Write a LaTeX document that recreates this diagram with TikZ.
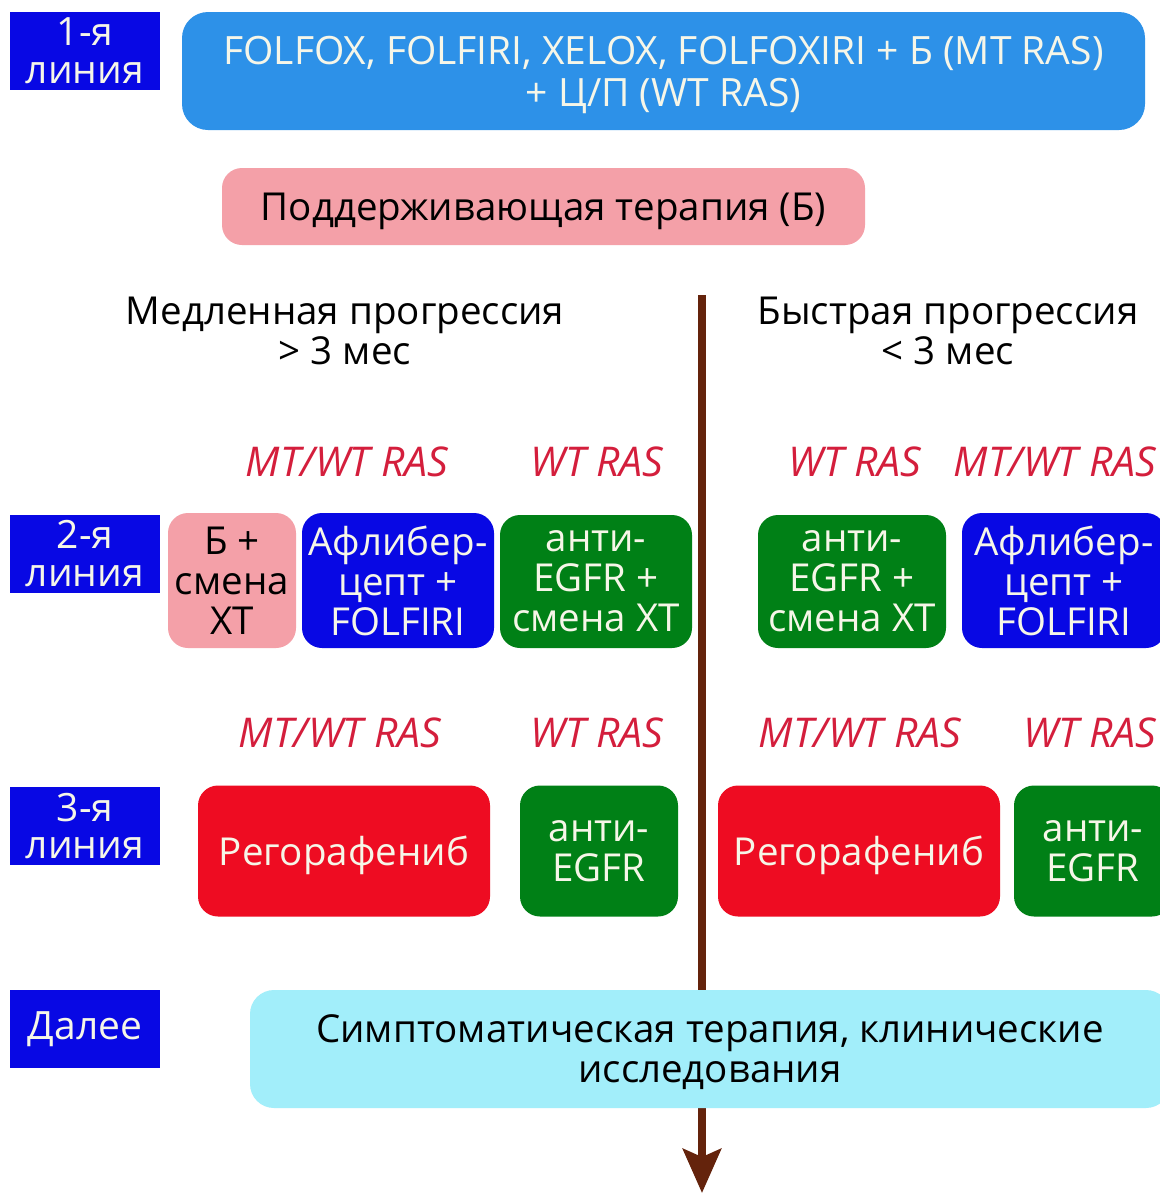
\documentclass[tikz,border=0pt]{standalone}
\usepackage{fontspec}
\setmainfont{Open Sans}
\usetikzlibrary{arrows.meta}
\definecolor{lblue}{RGB}{8,8,228}
\definecolor{topblue}{RGB}{45,145,232}
\definecolor{pinkc}{RGB}{244,160,168}
\definecolor{greenc}{RGB}{0,128,22}
\definecolor{redc}{RGB}{238,12,34}
\definecolor{cyanc}{RGB}{162,238,250}
\definecolor{brownc}{RGB}{100,35,12}
\definecolor{rastext}{RGB}{212,30,60}
\definecolor{cream}{RGB}{246,246,232}
\tikzset{
  lbl/.style={fill=lblue, text=cream, minimum width=150pt, minimum height=78pt, inner sep=0pt, align=center, font=\fontsize{39}{38}\selectfont},
  box/.style={rounded corners=20pt, inner sep=0pt, align=center, text depth=0pt, font=\fontsize{38.5}{40}\selectfont},
  rowtwo/.style={box, text depth=-9pt},
  ras/.style={text=rastext, font=\fontsize{41}{38}\selectfont\itshape},
  head/.style={align=center, font=\fontsize{38.5}{40}\selectfont},
}
\begin{document}
\begin{tikzpicture}[x=1pt,y=-1pt]
\path[use as bounding box, fill=white] (0,0) rectangle (1160,1195);
\begin{scope}
\clip (0,0) rectangle (1160,1195);
% main arrow
\coordinate (atop) at (702,295);
\coordinate (abot) at (702,1193);
\draw[brownc, line width=8pt, -{Stealth[width=38pt,length=44pt,inset=8pt]}] (atop) -- (abot);

% level labels
\node[lbl] (l1) at (85,51) {1-я\\линия};
\node[lbl] (l2) at (85,554) {2-я\\линия};
\node[lbl] (l3) at (85,826) {3-я\\линия};
\node[lbl] (l4) at (85,1029) {Далее};

% first line
\node[box, rounded corners=26pt, fill=topblue, text=cream, minimum width=963pt, minimum height=118pt, font=\fontsize{39}{42}\selectfont] (top) at (663.5,71)
  {FOLFOX, FOLFIRI, XELOX, FOLFOXIRI + Б (MT RAS)\\+ Ц/П (WT RAS)};
\node[box, fill=pinkc, text=black, minimum width=643pt, minimum height=77pt] (maint) at (543.5,206.5)
  {Поддерживающая терапия (Б)};

% headings
\node[head] (slow) at (345,331) {Медленная прогрессия\\> 3 мес};
\node[head] (fast) at (948,331) {Быстрая прогрессия\\< 3 мес};

% RAS labels row 2
\node[ras] (r2a) at (347,462) {MT/WT RAS};
\node[ras] (r2b) at (597,462) {WT RAS};
\node[ras] (r2c) at (855,462) {WT RAS};
\node[ras] (r2d) at (1055,462) {MT/WT RAS};

% second line boxes
\node[rowtwo, fill=pinkc, text=black, minimum width=128pt, minimum height=135pt] (b1) at (232,580.5) {Б +\\смена\\ХТ};
\node[rowtwo, fill=lblue, text=cream, minimum width=192pt, minimum height=135pt] (b2) at (398,580.5) {Афлибер-\\цепт +\\FOLFIRI};
\node[rowtwo, fill=greenc, text=cream, minimum width=192pt, minimum height=133pt] (b3) at (596,581.5) {анти-\\EGFR +\\смена ХТ};
\node[rowtwo, fill=greenc, text=cream, minimum width=188pt, minimum height=133pt] (b4) at (852,581.5) {анти-\\EGFR +\\смена ХТ};
\node[rowtwo, fill=lblue, text=cream, minimum width=204pt, minimum height=135pt] (b5) at (1064,580.5) {Афлибер-\\цепт +\\FOLFIRI};

% RAS labels row 3
\node[ras] (r3a) at (340,733) {MT/WT RAS};
\node[ras] (r3b) at (597,733) {WT RAS};
\node[ras] (r3c) at (860,733) {MT/WT RAS};
\node[ras] (r3d) at (1090,733) {WT RAS};

% third line boxes
\node[box, fill=redc, text=cream, minimum width=292pt, minimum height=131pt] (c1) at (344,851) {Регорафениб};
\node[box, fill=greenc, text=cream, minimum width=158pt, minimum height=131pt] (c2) at (599,851) {анти-\\EGFR};
\node[box, fill=redc, text=cream, minimum width=282pt, minimum height=131pt] (c3) at (859,851) {Регорафениб};
\node[box, fill=greenc, text=cream, minimum width=158pt, minimum height=131pt] (c4) at (1093,851) {анти-\\EGFR};

% further
\node[box, rounded corners=24pt, fill=cyanc, text=black, minimum width=920pt, minimum height=118pt] (sym) at (710,1049)
  {Симптоматическая терапия, клинические\\исследования};
\end{scope}
\end{tikzpicture}
\end{document}
